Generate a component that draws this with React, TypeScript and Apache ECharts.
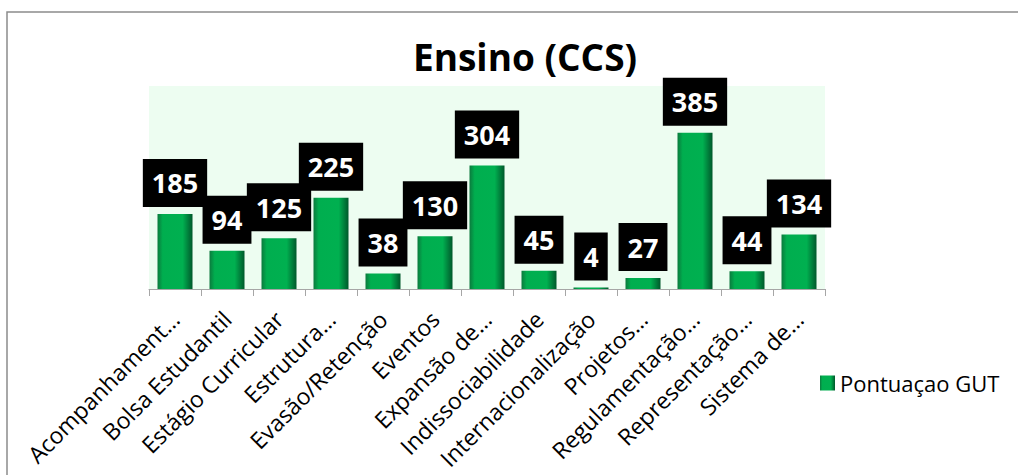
import React, { useEffect, useRef } from "react";
import * as echarts from "echarts";

const categories = [
  "Acompanhament…",
  "Bolsa Estudantil",
  "Estágio Curricular",
  "Estrutura…",
  "Evasão/Retenção",
  "Eventos",
  "Expansão de…",
  "Indissociabilidade",
  "Internacionalização",
  "Projetos…",
  "Regulamentação…",
  "Representação…",
  "Sistema de…",
];
const values = [185, 94, 125, 225, 38, 130, 304, 45, 4, 27, 385, 44, 134];
const seriesName = "Pontuaçao GUT";
const chartTitle = "Ensino (CCS)";

const FONT = "'Open Sans', Calibri, sans-serif";

export default function App() {
  const ref = useRef<HTMLDivElement>(null);
  useEffect(() => {
    document.body.style.margin = "0";
    if (!ref.current) return;
    const chart = echarts.init(ref.current, null, { renderer: "svg" });
    const barGrad = new echarts.graphic.LinearGradient(0, 0, 1, 0, [
      { offset: 0, color: "#0b7a3d" },
      { offset: 0.15, color: "#00ae4f" },
      { offset: 0.72, color: "#00b050" },
      { offset: 1, color: "#00582b" },
    ]);
    chart.setOption({
      animation: false,
      title: {
        text: chartTitle,
        left: 520,
        textAlign: "center",
        top: 33,
        textStyle: { fontFamily: FONT, fontSize: 37, fontWeight: "bold", color: "#000" },
      },
      graphic: [
        {
          type: "rect",
          shape: { x: 7, y: 12, width: 1100, height: 600 },
          style: { fill: "none", stroke: "#8c8c8c", lineWidth: 1.5 },
          silent: true,
          z: -10,
        },
      ],
      legend: {
        data: [seriesName],
        left: 815,
        top: 367,
        itemWidth: 15,
        itemHeight: 15,
        icon: "rect",
        textStyle: { fontFamily: FONT, fontSize: 22, color: "#000" },
      },
      grid: {
        left: 149,
        right: 193,
        top: 86,
        bottom: 186,
        show: true,
        backgroundColor: "#edfdf1",
        borderWidth: 0,
      },
      xAxis: {
        type: "category",
        data: categories,
        axisLine: { lineStyle: { color: "#a6a6a6", width: 1 } },
        axisTick: { show: true, length: 7, lineStyle: { color: "#a6a6a6" } },
        axisLabel: {
          interval: 0,
          rotate: 45,
          margin: 26,
          fontFamily: FONT,
          fontSize: 23,
          color: "#000",
        },
      },
      yAxis: {
        type: "value",
        min: 0,
        max: 500,
        show: false,
        splitLine: { show: false },
      },
      series: [
        {
          name: seriesName,
          type: "bar",
          data: values,
          barWidth: 35,
          itemStyle: { color: barGrad },
          label: {
            show: true,
            position: "top",
            distance: 7,
            backgroundColor: "#000",
            color: "#fff",
            fontFamily: FONT,
            fontWeight: "bold",
            fontSize: 27,
            lineHeight: 32,
            padding: [8, 9, 8, 9],
          },
        },
      ],
    });
    return () => chart.dispose();
  }, []);
  return <div ref={ref} style={{ width: 1018, height: 475 }} />;
}
